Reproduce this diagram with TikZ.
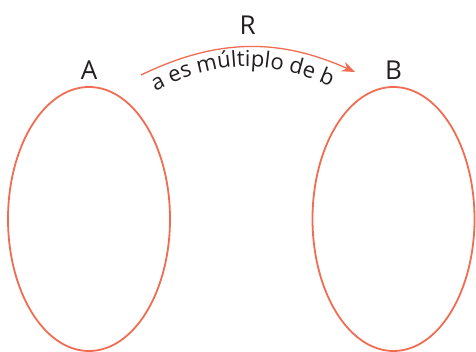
\documentclass[tikz,border=0pt]{standalone}
\usepackage{fontspec}
\setmainfont{Open Sans}
\usetikzlibrary{positioning,shapes.geometric,decorations.text,arrows.meta}
\definecolor{naranja}{RGB}{240,108,82}
\definecolor{texto}{RGB}{35,31,32}

\begin{document}
\begin{tikzpicture}[x=1pt,y=1pt,>={Stealth[length=13pt,width=10pt]},
  every node/.style={font=\fontsize{26}{30}\selectfont,text=texto,inner sep=0pt,outer sep=0pt},
  conj/.style={draw=naranja, line width=1.8pt, ellipse, minimum width=162pt, minimum height=264pt}]
\useasboundingbox (0,0) rectangle (476,352);

% Conjuntos
\node[conj] (A) at (89,133) {};
\node[conj, right=142.5pt of A] (B) {};

% Nombres de los conjuntos
\node[above=7pt of A.north] (nomA) {A};
\node[above=7pt of B.north] (nomB) {B};

% Flecha de la relacion
\coordinate (ini) at (141,277);
\coordinate (fin) at (355,280);
\draw[->, naranja, line width=1.3pt] (ini) to[bend left=25] node[midway, above=12pt] (R) {R} (fin);

% Texto curvo bajo la flecha
\coordinate (tini) at (150,258);
\coordinate (tfin) at (336,263);
\path[decorate, decoration={text along path, text align=center,
  text={|\fontsize{22}{27}\selectfont\color{texto}|a es múltiplo de b}}]
  (tini) to[bend left=27] (tfin);
\end{tikzpicture}
\end{document}
